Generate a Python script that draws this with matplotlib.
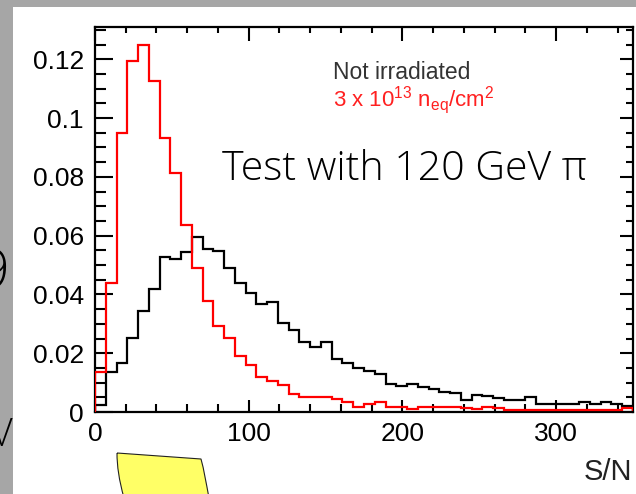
import numpy as np
import matplotlib
matplotlib.use("Agg")
import matplotlib.pyplot as plt
from matplotlib.patches import Rectangle, PathPatch
from matplotlib.path import Path
from matplotlib.ticker import MultipleLocator

# ---------------- data ----------------
bin_width = 7
n_bins = 50
edges = np.arange(n_bins + 1) * bin_width  # 0 .. 350

irradiated = [
    0.0137, 0.0438, 0.0948, 0.1194, 0.1248, 0.1127, 0.0933, 0.0814, 0.0636, 0.0489,
    0.0378, 0.0293, 0.0251, 0.0192, 0.0160, 0.0120, 0.0105, 0.0092, 0.0061, 0.0052,
    0.0052, 0.0052, 0.0045, 0.0034, 0.0018, 0.0026, 0.0034, 0.0018, 0.0018, 0.0010,
    0.0018, 0.0018, 0.0018, 0.0018, 0.0013, 0.0010, 0.0018, 0.0013, 0.0008, 0.0008,
    0.0008, 0.0006, 0.0006, 0.0006, 0.0006, 0.0006, 0.0006, 0.0006, 0.0006, 0.0015,
]
not_irradiated = [
    0.0025, 0.0137, 0.0166, 0.0251, 0.0345, 0.0418, 0.0528, 0.0520, 0.0545, 0.0594,
    0.0556, 0.0548, 0.0491, 0.0440, 0.0406, 0.0366, 0.0375, 0.0304, 0.0279, 0.0239,
    0.0222, 0.0239, 0.0179, 0.0168, 0.0151, 0.0139, 0.0128, 0.0094, 0.0088, 0.0095,
    0.0086, 0.0078, 0.0069, 0.0064, 0.0041, 0.0058, 0.0056, 0.0048, 0.0042, 0.0042,
    0.0050, 0.0026, 0.0026, 0.0026, 0.0026, 0.0034, 0.0027, 0.0035, 0.0026, 0.0019,
]
x_ticks = [0, 100, 200, 300]
x_tick_labels = ["0", "100", "200", "300"]
y_ticks = [0, 0.02, 0.04, 0.06, 0.08, 0.1, 0.12]
y_tick_labels = ["0", "0.02", "0.04", "0.06", "0.08", "0.1", "0.12"]
legend_black = "Not irradiated"
legend_red = r"3 x 10$^{13}$ n$_{\rm eq}$/cm$^{2}$"
x_label = "S/N"
overlay_text = "Test with 120 GeV π"

# ---------------- figure ----------------
W, H = 636, 494
fig = plt.figure(figsize=(W / 100, H / 100), dpi=100)
fig.patch.set_facecolor("white")

plt.rcParams["mathtext.fontset"] = "custom"
plt.rcParams["mathtext.rm"] = "Liberation Sans"
plt.rcParams["mathtext.it"] = "Liberation Sans"


def fx(px):
    return px / W


def fy(py):
    return 1 - py / H


# grey slide frame
gray = "#a6a6a6"
fig.add_artist(Rectangle((0, fy(7)), 1, 7 / H, transform=fig.transFigure,
                         facecolor=gray, edgecolor="none", zorder=0))
fig.add_artist(Rectangle((0, 0), fx(13), 1, transform=fig.transFigure,
                         facecolor=gray, edgecolor="none", zorder=0))

# axes
left, right, top, bottom = 95, 633, 27, 412
ax = fig.add_axes([fx(left), fy(bottom), fx(right - left), (bottom - top) / H])
ax.set_xlim(0, 350)
ax.set_ylim(0, 0.131)

ax.stairs(not_irradiated, edges, color="black", linewidth=1.6, zorder=3)
ax.stairs(irradiated, edges, color="#ff0000", linewidth=1.6, zorder=4)

for s in ax.spines.values():
    s.set_linewidth(1.6)

tick_font = dict(family="Liberation Sans", size=19)
ax.set_xticks(x_ticks)
ax.set_xticklabels(x_tick_labels, fontdict=tick_font)
ax.set_yticks(y_ticks)
ax.set_yticklabels(y_tick_labels, fontdict=tick_font)
ax.xaxis.set_minor_locator(MultipleLocator(20))
ax.yaxis.set_minor_locator(MultipleLocator(0.005))
ax.tick_params(axis="x", which="major", direction="in", length=9, width=1.5, pad=7,
               top=False, bottom=True, colors="black")
ax.tick_params(axis="x", which="minor", direction="in", length=5.5, width=1.5,
               top=False, bottom=True)
ax.tick_params(axis="y", which="major", direction="in", length=13, width=1.5, pad=8,
               right=False, left=True)
ax.tick_params(axis="y", which="minor", direction="in", length=8, width=1.5,
               right=False, left=True)

# opposite-side ticks (shorter, as in ROOT style)
axt = ax.twiny()
axt.set_xlim(ax.get_xlim())
axt.set_xticks(x_ticks)
axt.xaxis.set_minor_locator(MultipleLocator(20))
axt.tick_params(axis="x", which="major", direction="in", length=10, width=1.5,
                labeltop=False, top=True)
axt.tick_params(axis="x", which="minor", direction="in", length=4.5, width=1.5, top=True)
axr = ax.twinx()
axr.set_ylim(ax.get_ylim())
axr.set_yticks(y_ticks)
axr.yaxis.set_minor_locator(MultipleLocator(0.005))
axr.tick_params(axis="y", which="major", direction="in", length=9.5, width=1.5,
                labelright=False, right=True)
axr.tick_params(axis="y", which="minor", direction="in", length=5, width=1.5, right=True)
for a in (axt, axr):
    for s in a.spines.values():
        s.set_visible(False)

# legend-like texts
fig.text(fx(333), fy(79), legend_black, family="Liberation Sans", fontsize=16.5,
         color="#333333", va="baseline", ha="left")
fig.text(fx(333), fy(106), legend_red, family="Liberation Sans", fontsize=16,
         color="#ff2020", va="baseline", ha="left")

# x label
fig.text(fx(632), fy(480), x_label, family="Liberation Sans", fontsize=21,
         color="#222222", va="baseline", ha="right")

# slide overlay text
thin = dict(family=["Open Sans", "DejaVu Sans"], weight="light")
fig.text(fx(222), fy(180), overlay_text, fontsize=29.5, color="black",
         va="baseline", ha="left", **thin)
fig.text(fx(10), fy(290), "9", fontsize=40, color="black",
         va="baseline", ha="right", **thin)
fig.text(fx(13), fy(446), "V", fontsize=27, color="black",
         va="baseline", ha="right", **thin)

# yellow note shape
verts = [
    (117, 453), (201, 459),
    (204, 470), (206, 482), (209, 498),
    (124, 498),
    (119, 480), (117, 466), (117, 453),
]
codes = [Path.MOVETO, Path.LINETO,
         Path.CURVE4, Path.CURVE4, Path.CURVE4,
         Path.LINETO,
         Path.CURVE4, Path.CURVE4, Path.CURVE4]
path = Path([(fx(x), fy(y)) for x, y in verts], codes)
fig.add_artist(PathPatch(path, transform=fig.transFigure, facecolor="#ffff66",
                         edgecolor="#222222", linewidth=0.8, zorder=1))

fig.savefig("out.png", dpi=100)
